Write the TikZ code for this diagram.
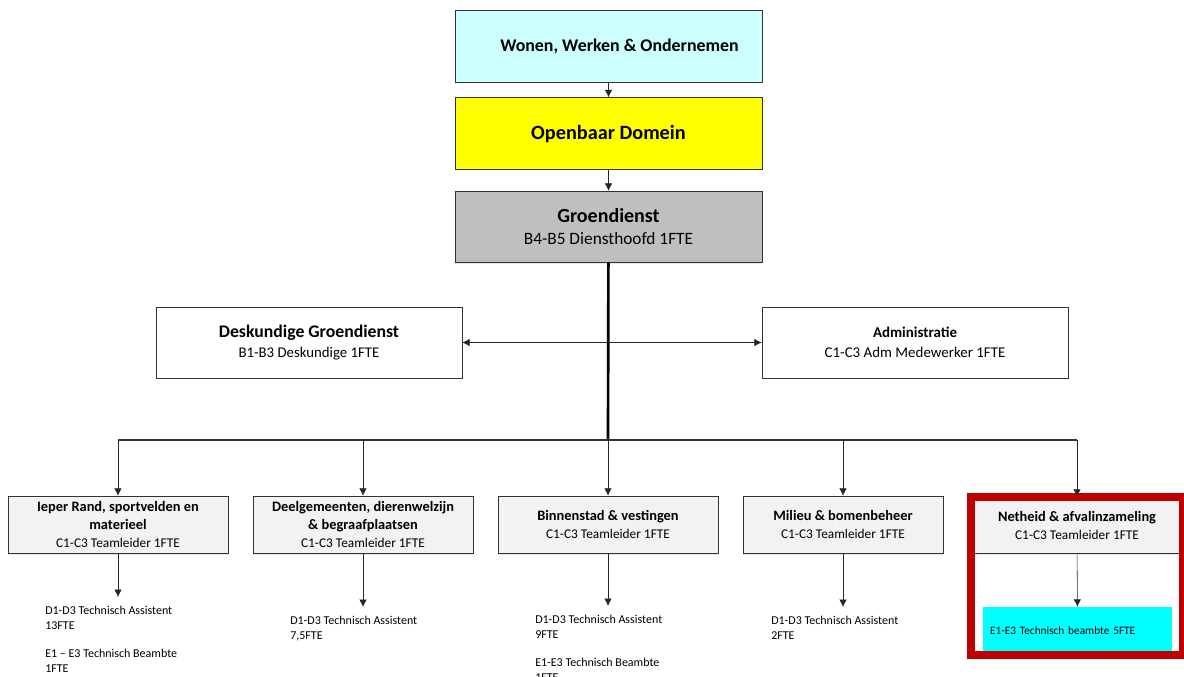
\documentclass[tikz,border=0pt]{standalone}
\usepackage{fontspec}
\setmainfont{Carlito}
\usepackage{tikz}
\usetikzlibrary{arrows.meta,positioning,fit,shadows}
\definecolor{TopCyan}{RGB}{204,255,255}
\definecolor{DomYellow}{RGB}{255,255,0}
\definecolor{HeadGray}{RGB}{191,191,191}
\definecolor{TeamGray}{RGB}{242,242,242}
\definecolor{FrameRed}{RGB}{192,0,0}
\definecolor{StaffCyan}{RGB}{0,255,255}
\newcommand{\unittitle}[2]{{\fontsize{#1}{#1}\selectfont\bfseries #2}}

\begin{document}
\begin{tikzpicture} [x=0.75pt,y=-0.75pt,
       >={Latex[length=5.5pt,width=5.5pt]}, black!85, text=black, thin,
	   every node/.style={font=\fontsize{10}{12}\selectfont},
	   orgbox/.style 2 args = {rectangle, minimum width=#1, draw=black!80,
	                           fill=#2, align=center, inner sep=2pt},
	   teambox/.style = {orgbox={#1}{TeamGray}, minimum height=42.75pt,
	                     font=\fontsize{10}{13.5}\selectfont,
	                     drop shadow={shadow xshift=0pt, shadow yshift=-1.5pt,
	                                  fill=blue!30!gray!30, opacity=0.5}},
	   staff/.style = {align=left, inner xsep=0pt, inner ysep=7pt,
	                   font=\fontsize{9}{11.25}\selectfont},
	   trunk/.style = {black, line width=2pt},
	   bus/.style = {black!80, line width=1.1pt}]
	\useasboundingbox (0,0) rectangle (1184,677);

	%% Directorate, department, service
	\node [orgbox={230.25pt}{TopCyan}, minimum height=54pt] at (608.5,46) (wwo)
	      {\hspace*{16.5pt}\unittitle{13.4}{Wonen, Werken \& Ondernemen}};
	\node [orgbox={230.25pt}{DomYellow}, minimum height=54pt, below=11.25pt of wwo] (domein)
	      {\unittitle{15.2}{Openbaar Domein}};
	\node [orgbox={230.25pt}{HeadGray}, minimum height=53.25pt, below=15.75pt of domein,
	       font=\fontsize{13}{17}\selectfont,
	       drop shadow={shadow xshift=0pt, shadow yshift=-1.5pt, fill=blue!30!gray!30, opacity=0.5}] (groen)
	      {\unittitle{15}{Groendienst}\\B4-B5 Diensthoofd 1FTE};

	%% Staff functions
	\node [orgbox={229.5pt}{white}, minimum height=53.25pt, font=\fontsize{11.1}{15}\selectfont]
	      at (309,342.5) (desk) {\unittitle{13.3}{Deskundige Groendienst}\\B1-B3 Deskundige 1FTE};
	\node [orgbox={229.5pt}{white}, minimum height=53.25pt, font=\fontsize{11.2}{15}\selectfont]
	      at (915,342.5) (admin) {\unittitle{11.2}{Administratie}\\C1-C3 Adm Medewerker 1FTE};

	%% Teams
	\coordinate (split) at (608,440);
	\node [teambox={165pt}] at (118,524.5) (ieper)
	      {\unittitle{10.8}{Ieper Rand, sportvelden en}\\[-0.5pt]\unittitle{10.8}{materieel}\\C1-C3 Teamleider 1FTE};
	\node [teambox={165pt}] at (363,524.5) (deelgem)
	      {\unittitle{10.8}{Deelgemeenten, dierenwelzijn}\\[-0.5pt]\unittitle{10.8}{\& begraafplaatsen}\\C1-C3 Teamleider 1FTE};
	\node [teambox={165pt}] at (608,524.5) (binnen)
	      {\unittitle{10.8}{Binnenstad \& vestingen}\\C1-C3 Teamleider 1FTE};
	\node [teambox={150pt}] at (843,524.5) (milieu)
	      {\unittitle{10.8}{Milieu \& bomenbeheer}\\C1-C3 Teamleider 1FTE};
	\node [teambox={159pt}, minimum height=42pt] at (1077,525) (netheid)
	      {\unittitle{10.8}{Netheid \& afvalinzameling}\\C1-C3 Teamleider 1FTE};

	%% Team members
	\node [staff, anchor=north west] at (45,597) (ieperstaff)
	      {D1-D3 Technisch Assistent\\13FTE\\[9.75pt]E1 -- E3 Technisch Beambte\\1FTE};
	\node [staff, anchor=north west] at (290,607) (deelgemstaff)
	      {D1-D3 Technisch Assistent\\7,5FTE};
	\node [staff, anchor=north west] at (535,606) (binnenstaff)
	      {D1-D3 Technisch Assistent\\9FTE\\[9.75pt]E1-E3 Technisch Beambte\\1FTE};
	\node [staff, anchor=north west] at (771,607) (milieustaff)
	      {D1-D3 Technisch Assistent\\2FTE};
	\node [rectangle, fill=StaffCyan, minimum width=141.75pt, minimum height=36pt,
	       text width=131.25pt, inner xsep=5.25pt, align=left,
	       font=\fontsize{8.5}{10}\selectfont] at (1077.5,631) (netheidstaff)
	      {E1-E3 Technisch beambte 5FTE};
	\node [draw=FrameRed, line width=6pt, inner sep=0pt, fit=(netheid) (netheidstaff)] (highlight) {};

	%% Simple paths
	\draw[->] (wwo) -- (domein);
	\draw[->] (domein) -- (groen);
	\draw[trunk] (groen) -- (split);
	\draw[<->] (desk) -- (admin);
	\draw[bus] (ieper |- split) -- (netheid |- split);
	\draw[->] (ieper |- split) -- (ieper);
	\draw[->] (deelgem |- split) -- (deelgem);
	\draw[->] (split) -- (binnen);
	\draw[->] (milieu |- split) -- (milieu);
	\draw[->] (netheid |- split) -- (netheid);
	%% Down to the members
	\draw[->] (ieper) -- (ieper |- ieperstaff.north);
	\draw[->] (deelgem) -- (deelgem |- deelgemstaff.north);
	\draw[->] (binnen) -- (binnen |- binnenstaff.north);
	\draw[->] (milieu) -- (milieu |- milieustaff.north);
	\draw[->] (netheid) -- (netheidstaff);
\end{tikzpicture}
\end{document}
